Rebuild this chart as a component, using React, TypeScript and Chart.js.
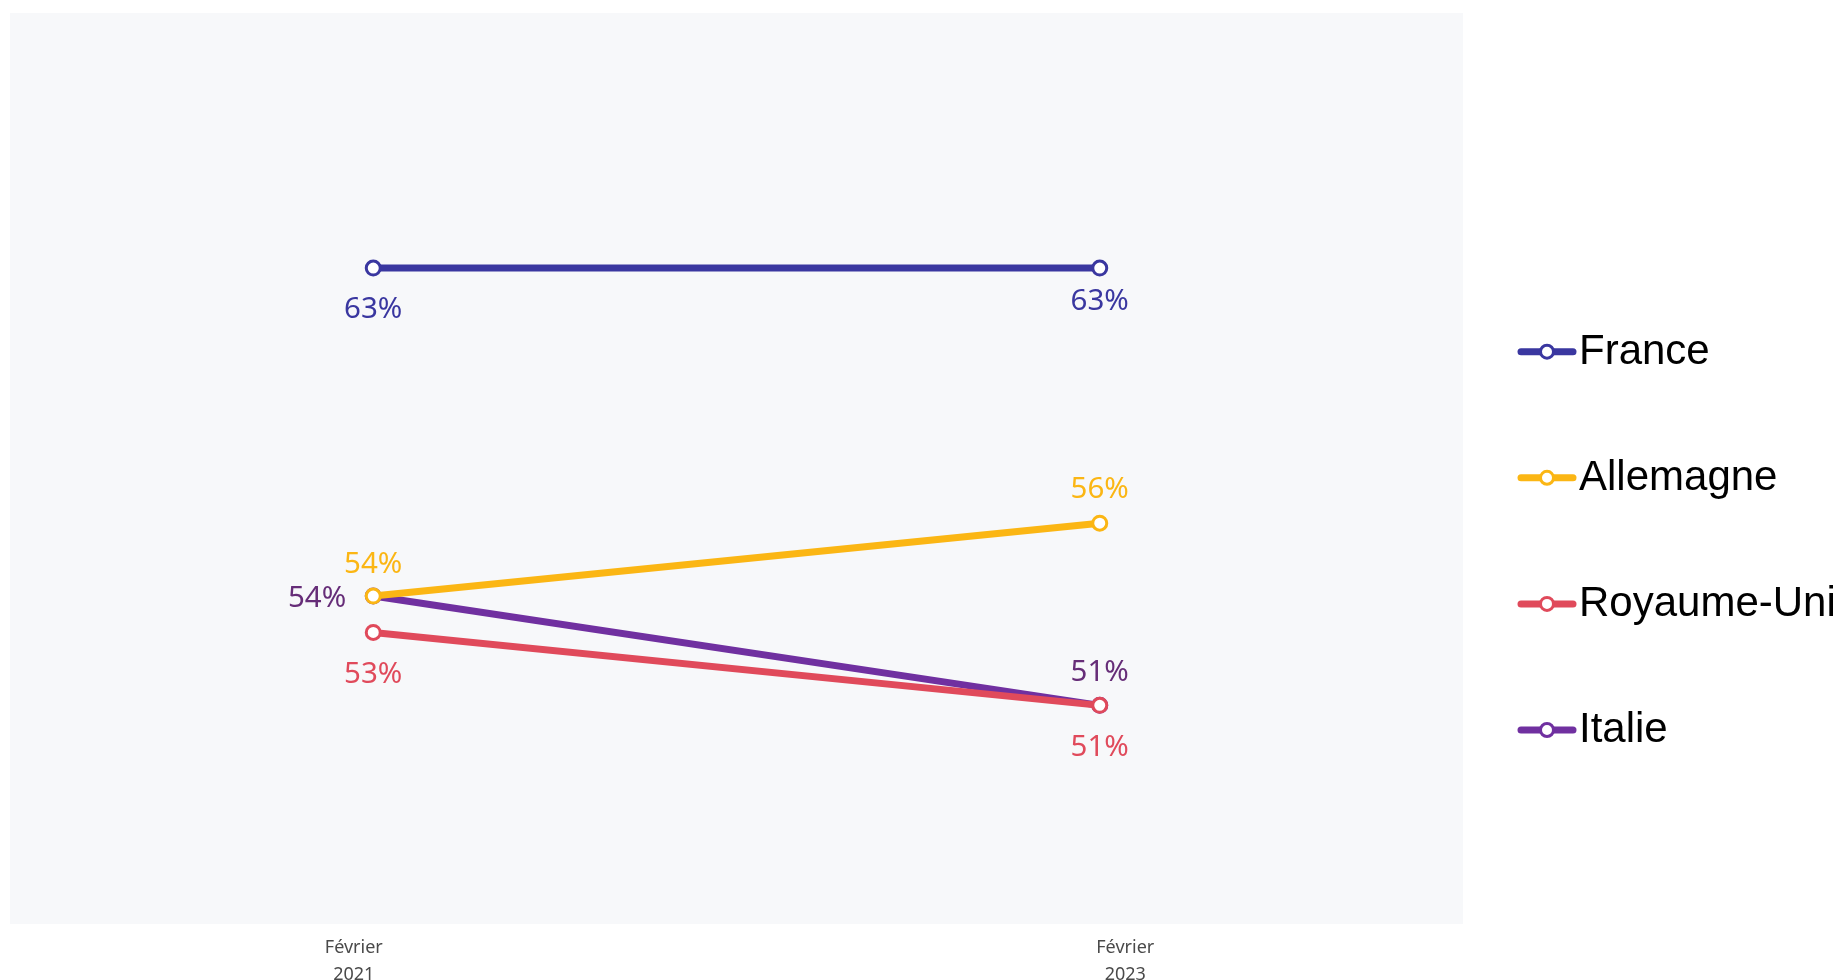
import React, { useEffect, useRef } from "react";
import { Chart, registerables } from "chart.js";

Chart.register(...registerables);

const categories: string[][] = [["Février", "2021"], ["Février", "2023"]];
const seriesNames = ["France", "Allemagne", "Royaume-Uni", "Italie"];
const france = [63, 63];
const allemagne = [54, 56];
const royaumeUni = [53, 51];
const italie = [54, 51];

const lineColors = ["#3a37a0", "#fbb614", "#e04a5b", "#7030a0"];
const labelColors = ["#3a37a0", "#fbb614", "#e04a5b", "#662d78"];
// [align, distance] for each point's value label
const labelPlacement: [string, number][][] = [
  [["bottom", 39], ["bottom", 31]],
  [["top", 34], ["top", 36]],
  [["bottom", 40], ["bottom", 40]],
  [["left", 27], ["top", 35]],
];

const W = 1844;
const H = 980;

const bgPlugin = {
  id: "plotBg",
  beforeDraw(chart: any) {
    const { ctx, chartArea } = chart;
    ctx.save();
    ctx.fillStyle = "#f7f8fa";
    ctx.fillRect(chartArea.left, chartArea.top, chartArea.right - chartArea.left, chartArea.bottom - chartArea.top);
    ctx.restore();
  },
};

const labelPlugin = {
  id: "valueLabels",
  afterDatasetsDraw(chart: any) {
    const ctx = chart.ctx;
    ctx.save();
    const fs = 29.5;
    ctx.font = `${fs}px "Noto Sans"`;
    ctx.textBaseline = "alphabetic";
    chart.data.datasets.forEach((ds: any, di: number) => {
      const meta = chart.getDatasetMeta(di);
      meta.data.forEach((pt: any, i: number) => {
        const txt = `${ds.data[i]}%`;
        const [align, dist] = labelPlacement[di][i];
        let x = pt.x;
        let y = pt.y;
        ctx.fillStyle = labelColors[di];
        if (align === "left") {
          ctx.textAlign = "right";
          x = pt.x - dist;
        } else {
          ctx.textAlign = "center";
          y = align === "top" ? pt.y - dist : pt.y + dist;
        }
        ctx.fillText(txt, x, y + fs * 0.357);
      });
    });
    ctx.restore();
  },
};

const legendPlugin = {
  id: "sideLegend",
  afterDraw(chart: any) {
    const ctx = chart.ctx;
    ctx.save();
    const startY = 351.7;
    const step = 126.1;
    seriesNames.forEach((name, i) => {
      const y = startY + i * step;
      ctx.strokeStyle = lineColors[i];
      ctx.lineWidth = 7;
      ctx.lineCap = "round";
      ctx.beginPath();
      ctx.moveTo(1521, y);
      ctx.lineTo(1573, y);
      ctx.stroke();
      ctx.beginPath();
      ctx.arc(1547, y, 6.5, 0, Math.PI * 2);
      ctx.fillStyle = "#ffffff";
      ctx.fill();
      ctx.lineWidth = 3;
      ctx.stroke();
      ctx.fillStyle = "#000000";
      ctx.font = `42px "Liberation Sans", Arial, sans-serif`;
      ctx.textAlign = "left";
      ctx.textBaseline = "alphabetic";
      ctx.fillText(name, 1579, y + 12);
    });
    ctx.restore();
  },
};

export default function App() {
  const ref = useRef<HTMLCanvasElement | null>(null);
  useEffect(() => {
    document.body.style.margin = "0";
    const canvas = ref.current!;
    const seriesValues = [france, allemagne, royaumeUni, italie];
    const chart = new Chart(canvas, {
      type: "line",
      data: {
        labels: categories.map((c) => c.join(" ")),
        datasets: seriesNames.map((name, i) => ({
          label: name,
          data: seriesValues[i],
          borderColor: lineColors[i],
          backgroundColor: "#ffffff",
          borderWidth: 7,
          tension: 0,
          pointRadius: 7,
          pointBorderWidth: 3,
          pointBackgroundColor: "#ffffff",
          pointBorderColor: lineColors[i],
          fill: false,
        })),
      },
      options: {
        responsive: false,
        animation: false,
        layout: { padding: { left: 9, top: 13, right: W - 1463, bottom: 0 } },
        plugins: {
          legend: { display: false },
          tooltip: { enabled: false },
        },
        scales: {
          x: { type: "category", display: false, offset: true },
          xl: {
            type: "linear",
            position: "bottom",
            min: -0.4456,
            max: 1.4378,
            grid: { display: false },
            border: { display: false },
            afterBuildTicks: (scale: any) => {
              scale.ticks = [{ value: 0 }, { value: 1 }];
            },
            afterFit: (scale: any) => {
              scale.height = 56;
            },
            ticks: {
              autoSkip: false,
              maxRotation: 0,
              padding: 2,
              color: "#4a4a4a",
              font: { family: '"Noto Sans"', size: 18, lineHeight: 1.5 },
              callback: (v: any) => {
                const idx = Math.round(Number(v));
                return categories[idx] ?? "";
              },
            },
          },
          y: { display: false, min: 45, max: 70 },
        },
      },
      plugins: [bgPlugin, labelPlugin, legendPlugin],
    } as any);
    return () => chart.destroy();
  }, []);
  return (
    <div style={{ width: W, height: H }}>
      <canvas ref={ref} width={W} height={H} style={{ display: "block" }} />
    </div>
  );
}
